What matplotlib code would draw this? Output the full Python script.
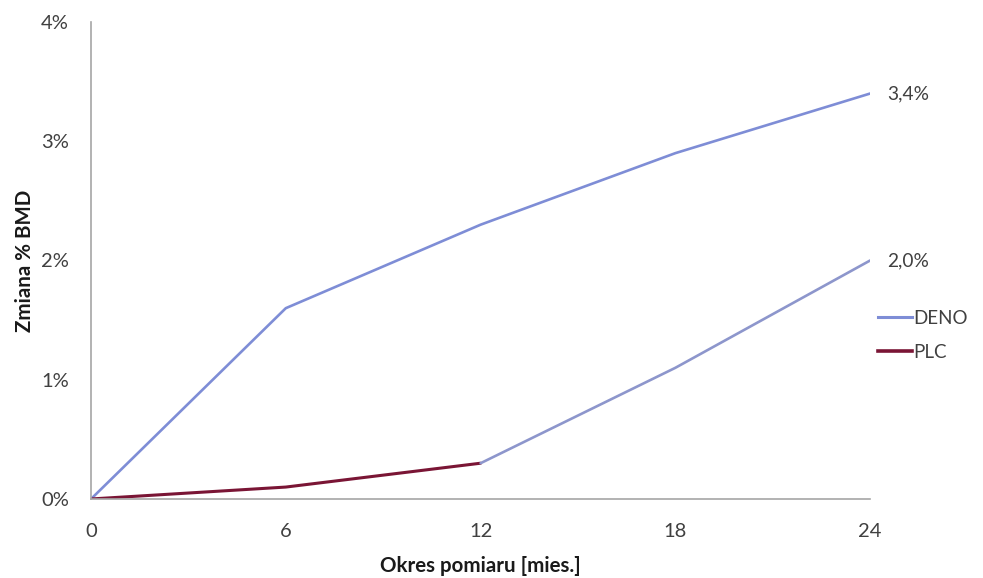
import matplotlib
matplotlib.use('Agg')
import matplotlib.pyplot as plt
from matplotlib.lines import Line2D
from matplotlib.ticker import FuncFormatter

# Change in BMD (%) over the measurement period (months)
months = [0, 6, 12, 18, 24]
deno = [0.0, 1.6, 2.3, 2.9, 3.4]
plc = [0.0, 0.1, 0.3, 1.1, 2.0]
y_ticks = [0, 1, 2, 3, 4]

deno_color = '#7e8dd6'
plc_color = '#7a1535'
plc_late_color = '#8d96cc'
text_color = '#404040'

plt.rcParams['font.family'] = ['Lato', 'DejaVu Sans']

fig = plt.figure(figsize=(9.83, 5.78), dpi=100)
ax = fig.add_axes([0.0926, 0.1367, 0.7926, 0.8253])

ax.plot(months, deno, color=deno_color, lw=1.9, solid_capstyle='round')
# PLC: first year in dark red, second year in the lighter blue-grey
ax.plot(months[:3], plc[:3], color=plc_color, lw=2.2, solid_capstyle='round')
ax.plot(months[2:], plc[2:], color=plc_late_color, lw=1.9, solid_capstyle='round')

ax.set_xlim(0, 24)
ax.set_ylim(0, 4)
ax.set_xticks(months)
ax.set_yticks(y_ticks)
ax.yaxis.set_major_formatter(FuncFormatter(lambda v, p: f'{v:.0f}%'))

for side in ('top', 'right'):
    ax.spines[side].set_visible(False)
for side in ('left', 'bottom'):
    ax.spines[side].set_color('#a6a6a6')
    ax.spines[side].set_linewidth(1.2)
ax.tick_params(axis='both', length=0, labelsize=14.5, colors=text_color)
ax.tick_params(axis='x', pad=17)
ax.tick_params(axis='y', pad=16)

ax.set_xlabel('Okres pomiaru [mies.]', fontsize=14.8, fontweight='bold',
              color='#1a1a1a', labelpad=12)
ax.set_ylabel('Zmiana % BMD', fontsize=14.8, fontweight='bold',
              color='#1a1a1a', labelpad=4)

# end-point value labels
ax.annotate(f'{deno[-1]:.1f}%'.replace('.', ','), (months[-1], deno[-1]),
            xytext=(12, 0), textcoords='offset points', va='center',
            fontsize=13.8, color=text_color, annotation_clip=False)
ax.annotate(f'{plc[-1]:.1f}%'.replace('.', ','), (months[-1], plc[-1]),
            xytext=(12, 0), textcoords='offset points', va='center',
            fontsize=13.8, color=text_color, annotation_clip=False)

handles = [Line2D([], [], color=deno_color, lw=2.2),
           Line2D([], [], color=plc_color, lw=2.6)]
fig.legend(handles, ['DENO', 'PLC'], loc='center left',
           bbox_to_anchor=(0.876, 0.42), frameon=False, fontsize=13.5,
           handlelength=1.8, handletextpad=0.1, labelspacing=0.9,
           labelcolor=text_color)

fig.savefig('out.png', dpi=100, facecolor='white')
